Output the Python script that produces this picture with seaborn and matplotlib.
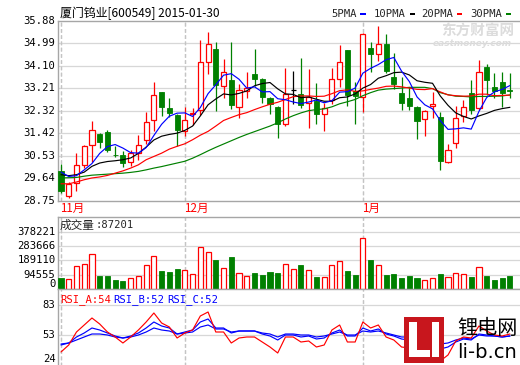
import numpy as np
import pandas as pd
import matplotlib
matplotlib.use("Agg")
import matplotlib.pyplot as plt
import matplotlib.transforms as mtrans
from matplotlib.patches import Rectangle
import seaborn as sns

sns.set_style("white")
plt.rcParams['font.family'] = ['Noto Sans CJK SC', 'DejaVu Sans']

# ---------------- data ----------------
title = "厦门钨业[600549] 2015-01-30"
open_ = [29.92, 28.93, 29.45, 30.18, 30.97, 31.39, 31.46, 30.58, 30.55, 30.28, 30.64, 31.17, 31.93, 33.04, 32.44,
         32.13, 31.50, 32.20, 32.35, 34.25, 34.74, 33.31, 33.52, 32.48, 33.10, 33.75, 33.56, 32.81, 32.48, 31.78,
         33.12, 32.97, 32.61, 32.70, 32.19, 32.74, 33.57, 34.70, 33.10, 32.84, 34.78, 34.55, 34.97, 33.66, 33.00,
         32.81, 32.48, 31.97, 32.52, 32.06, 30.28, 31.04, 32.09, 33.00, 32.41, 34.06, 33.27, 33.46, 33.12]
high = [30.21, 29.51, 30.64, 30.97, 31.91, 31.42, 31.55, 30.93, 30.73, 30.76, 31.36, 32.28, 33.44, 33.06, 32.81,
        32.17, 32.48, 32.41, 35.10, 35.41, 35.04, 34.34, 35.04, 33.38, 33.83, 34.74, 33.62, 32.85, 32.52, 34.02,
        33.90, 34.38, 33.95, 33.40, 32.61, 33.99, 34.91, 34.72, 33.44, 35.37, 35.04, 35.67, 35.36, 34.58, 33.66,
        33.27, 32.52, 32.34, 33.07, 32.26, 31.00, 32.52, 32.74, 33.53, 34.31, 34.15, 33.79, 33.86, 33.79]
low = [29.07, 28.87, 29.16, 30.05, 30.31, 30.85, 30.68, 30.48, 30.08, 30.15, 30.35, 31.00, 31.50, 32.09, 32.05,
       30.93, 31.30, 31.76, 32.15, 33.75, 32.31, 32.81, 32.39, 32.02, 32.81, 33.30, 32.61, 32.18, 31.23, 31.73,
       32.60, 32.41, 31.63, 31.78, 31.52, 32.57, 33.27, 32.52, 31.78, 32.26, 33.86, 34.28, 33.79, 33.16, 32.35,
       32.35, 31.20, 31.30, 32.02, 29.98, 30.26, 30.84, 31.89, 32.19, 32.35, 32.94, 32.81, 32.48, 32.81]
close = [29.13, 29.41, 30.17, 30.92, 31.54, 31.10, 30.77, 30.55, 30.25, 30.63, 30.98, 31.89, 32.94, 32.48, 32.22,
         31.56, 31.93, 32.24, 34.25, 34.97, 33.33, 33.83, 32.54, 33.15, 33.20, 33.57, 32.84, 32.58, 31.78, 32.97,
         33.12, 32.55, 32.87, 32.18, 32.41, 33.56, 34.25, 32.94, 32.90, 35.33, 34.55, 34.97, 33.88, 33.37, 32.61,
         32.52, 31.91, 32.32, 32.57, 30.34, 30.77, 32.02, 32.48, 32.35, 33.83, 33.53, 33.10, 33.00, 33.08]
volume = [74588, 66007, 151816, 165018, 231025, 85809, 85809, 59406, 52806, 70627, 83829, 158417, 215843, 118813,
          112212, 132014, 123433, 97030, 275249, 242246, 191420, 136634, 211222, 103631, 83829, 105611, 92410,
          112212, 105611, 163037, 130034, 158417, 123433, 79208, 77228, 156437, 182839, 118813, 92410, 334655,
          191420, 156437, 92410, 99011, 72608, 85809, 72608, 57426, 70627, 99011, 77228, 103631, 97030, 79208,
          143235, 85809, 59406, 72608, 87201]
vol_up = [0, 1, 1, 1, 1, 0, 0, 0, 0, 1, 1, 1, 1, 0, 0, 0, 1, 1, 1, 1, 0, 1, 0, 1, 1, 0, 0, 0, 0, 1,
          1, 0, 1, 0, 1, 1, 1, 0, 0, 1, 0, 1, 0, 0, 0, 0, 0, 1, 1, 0, 1, 1, 1, 0, 1, 0, 0, 0, 0]
ma5 = [29.89, 29.72, 29.75, 29.98, 30.23, 30.63, 30.90, 30.98, 30.84, 30.66, 30.64, 30.86, 31.34, 31.78, 32.10,
       32.22, 32.23, 32.09, 32.44, 32.99, 33.34, 33.72, 33.78, 33.56, 33.21, 33.26, 33.06, 33.07, 32.79, 32.75,
       32.66, 32.60, 32.66, 32.74, 32.63, 32.71, 33.05, 33.07, 33.21, 33.80, 33.99, 34.14, 34.33, 34.42, 33.88,
       33.47, 32.86, 32.55, 32.39, 31.93, 31.58, 31.60, 31.64, 31.59, 32.29, 32.84, 33.06, 33.16, 33.31]
ma10 = [29.79, 29.75, 29.79, 29.89, 30.12, 30.25, 30.31, 30.34, 30.38, 30.45, 30.63, 30.88, 31.16, 31.31, 31.38,
        31.43, 31.54, 31.71, 32.11, 32.55, 32.78, 32.98, 32.94, 33.00, 33.10, 33.30, 33.39, 33.43, 33.18, 32.98,
        32.96, 32.83, 32.86, 32.77, 32.69, 32.69, 32.83, 32.86, 32.98, 33.21, 33.35, 33.60, 33.70, 33.82, 33.84,
        33.73, 33.50, 33.44, 33.40, 32.90, 32.53, 32.23, 32.09, 31.99, 32.11, 32.21, 32.33, 32.40, 32.45]
ma20 = [29.43, 29.43, 29.50, 29.59, 29.66, 29.70, 29.76, 29.85, 29.94, 30.05, 30.18, 30.38, 30.51, 30.64, 30.80,
        30.91, 31.01, 31.17, 31.35, 31.50, 31.71, 31.93, 32.05, 32.16, 32.24, 32.36, 32.47, 32.57, 32.65, 32.76,
        32.87, 32.90, 32.90, 32.88, 32.89, 32.99, 33.11, 33.14, 33.08, 33.10, 33.16, 33.21, 33.28, 33.29, 33.26,
        33.21, 33.16, 33.15, 33.19, 33.06, 32.94, 32.91, 32.89, 32.90, 32.97, 32.97, 32.91, 32.92, 32.93]
ma30 = [29.66, 29.67, 29.68, 29.73, 29.77, 29.79, 29.81, 29.83, 29.85, 29.88, 29.92, 29.98, 30.05, 30.11, 30.18,
        30.25, 30.32, 30.44, 30.58, 30.73, 30.87, 31.00, 31.13, 31.26, 31.38, 31.49, 31.60, 31.71, 31.84, 31.99,
        32.12, 32.23, 32.32, 32.36, 32.39, 32.47, 32.59, 32.67, 32.76, 32.91, 33.03, 33.13, 33.17, 33.19, 33.21,
        33.24, 33.24, 33.24, 33.19, 33.03, 32.95, 32.89, 32.88, 32.86, 32.88, 32.88, 32.89, 32.90, 32.94]
rsi_a = [36, 43, 56, 63, 70, 64, 56, 51, 45, 51, 58, 66, 75, 65, 61, 50, 55, 58, 72, 76, 56, 56, 45, 50, 51,
         51, 46, 41, 35, 51, 51, 46, 47, 41, 43, 58, 63, 46, 46, 66, 60, 63, 51, 48, 41, 40, 32, 37, 39, 27,
         33, 47, 51, 50, 62, 57, 53, 52, 54]
rsi_b = [43, 45, 51, 55, 60, 58, 55, 52, 50, 52, 55, 60, 66, 62, 60, 54, 56, 58, 66, 69, 60, 60, 55, 57, 57,
         57, 54, 52, 48, 53, 53, 51, 52, 49, 50, 55, 58, 52, 52, 60, 57, 59, 54, 52, 49, 48, 44, 46, 47, 39,
         41, 46, 49, 48, 54, 53, 52, 51, 52]
rsi_c = [44, 45, 48, 51, 54, 54, 53, 51, 50, 51, 53, 56, 60, 58, 57, 54, 55, 56, 61, 63, 59, 59, 56, 57, 57,
         57, 55, 54, 51, 54, 54, 53, 53, 51, 52, 54, 56, 53, 53, 57, 56, 57, 55, 53, 51, 51, 48, 49, 49, 44,
         45, 48, 50, 49, 53, 52, 52, 51, 52]
month_labels = ["11月", "12月", "1月"]
month_index = [0, 16, 39]
price_ticks = [28.75, 29.64, 30.53, 31.42, 32.32, 33.21, 34.10, 34.99, 35.88]
volume_ticks = [0, 94555, 189110, 283666, 378221]
rsi_ticks = [24, 53, 83]
ma_names = ["5PMA", "10PMA", "20PMA", "30PMA"]

for arr in (high, low, close, volume, vol_up, ma5, ma10, ma20, ma30, rsi_a, rsi_b, rsi_c):
    if len(arr) != len(open_):
        raise ValueError("length mismatch %d" % len(arr))

# ---------------- style ----------------
RED = "#ff0000"
GREEN = "#008000"
BLUE = "#0000ff"
GRID = "#d7d7d7"
BORDER = "#a6a6a6"
DASH = "#c4c4c4"
MONO = "DejaVu Sans Mono"

W, H = 520, 365
fig = plt.figure(figsize=(W / 100, H / 100), dpi=100)
fig.patch.set_facecolor("white")


def rect(x0, y0, x1, y1):
    return [x0 / W, 1 - y1 / H, (x1 - x0) / W, (y1 - y0) / H]


step = 7.74
x_first = 61.0
xlim = ((58 - x_first) / step, (521 - x_first) / step)
idx = np.arange(len(close))
BW = 0.66


def style_axes(ax, ylim):
    ax.set_xlim(*xlim)
    ax.set_ylim(*ylim)
    ax.set_xticks([])
    ax.set_yticks([])
    ax.set_xlabel("")
    ax.set_ylabel("")
    for s in ax.spines.values():
        s.set_color(BORDER)
        s.set_linewidth(1.0)
    ax.spines["right"].set_visible(False)
    for m in month_index:
        ax.axvline(m, color=DASH, lw=0.9, ls=(0, (3, 2)), zorder=0)


def ylabels(ax, ticks, labels, vas=None):
    tr = mtrans.blended_transform_factory(fig.transFigure, ax.transData)
    for k, (t, lab) in enumerate(zip(ticks, labels)):
        va = "center" if vas is None else vas[k]
        ax.text(55.5 / W, t, lab, transform=tr, ha="right", va=va, fontsize=7.6,
                family=MONO, color="black", clip_on=False)


# ---------------- main price panel ----------------
ax = fig.add_axes(rect(58, 20.5, 521, 201))
style_axes(ax, (price_ticks[0], price_ticks[-1]))
for p in price_ticks[1:-1]:
    ax.axhline(p, color=GRID, lw=0.9, zorder=0)
ylabels(ax, price_ticks, ["%.2f" % p for p in price_ticks])

for i in idx:
    o, h, l, c = open_[i], high[i], low[i], close[i]
    if c > o:
        ax.vlines(i, c, h, color=RED, lw=0.9, zorder=3)
        ax.vlines(i, l, o, color=RED, lw=0.9, zorder=3)
        ax.add_patch(Rectangle((i - BW / 2, o), BW, c - o, facecolor="white",
                               edgecolor=RED, lw=0.9, zorder=3))
    elif c < o:
        ax.vlines(i, l, h, color=GREEN, lw=0.9, zorder=3)
        ax.add_patch(Rectangle((i - BW / 2, c), BW, o - c, facecolor=GREEN,
                               edgecolor=GREEN, lw=0.6, zorder=3))
    else:
        ax.vlines(i, l, h, color="black", lw=0.9, zorder=3)
        ax.hlines(o, i - BW / 2, i + BW / 2, color="black", lw=0.9, zorder=3)

for series, col in ((ma30, GREEN), (ma20, RED), (ma10, "black"), (ma5, BLUE)):
    sns.lineplot(x=idx, y=series, ax=ax, color=col, linewidth=0.85, legend=False,
                 estimator=None, zorder=4)
style_axes(ax, (price_ticks[0], price_ticks[-1]))

# title and legend
fig.text(60 / W, 1 - 13.5 / H, title, fontsize=8.6, ha="left", va="center", color="black")
leg_x = [331, 374, 421, 470]
leg_col = [BLUE, "black", RED, GREEN]
for name, x0, col in zip(ma_names, leg_x, leg_col):
    fig.text(x0 / W, 1 - 14 / H, name, fontsize=7.6, family=MONO, ha="left", va="center")
    sw = x0 + 6.5 * len(name) + 3
    fig.add_artist(Rectangle((sw / W, 1 - 15.2 / H), 5.5 / W, 2.4 / H, transform=fig.transFigure,
                             facecolor=col, edgecolor="none"))

# eastmoney watermark
fig.text(478 / W, 1 - 31 / H, "东方财富网", fontsize=10.5, fontweight="bold", color="#dcdcdc",
         ha="center", va="center")
fig.text(472 / W, 1 - 43 / H, "eastmoney.com", fontsize=6.5, fontweight="bold", style="italic",
         color="#dcdcdc", ha="center", va="center", family="DejaVu Sans")

# month labels
for lab, m in zip(month_labels, month_index):
    xp = x_first + m * step - 1
    fig.text(xp / W, 1 - 208.5 / H, lab, fontsize=8.4, color=RED, ha="left", va="center")

# ---------------- volume panel ----------------
axv = fig.add_axes(rect(58, 217, 521, 289))
vtop = volume_ticks[-1] * 72.0 / 57.3
style_axes(axv, (0, vtop))
for t in volume_ticks[1:]:
    axv.axhline(t, color=GRID, lw=0.9, zorder=0)
for i in idx:
    if vol_up[i]:
        axv.bar(i, volume[i], width=BW, facecolor="white", edgecolor=RED, lw=0.9, zorder=3)
    else:
        axv.bar(i, volume[i], width=BW, facecolor=GREEN, edgecolor=GREEN, lw=0.6, zorder=3)
style_axes(axv, (0, vtop))
ylabels(axv, volume_ticks, [str(v) for v in volume_ticks], vas=["bottom", "center", "center", "center", "center"])
fig.text(60 / W, 1 - 225 / H, "成交量", fontsize=8.4, ha="left", va="center")
fig.text(96 / W, 1 - 225 / H, ":%d" % volume[-1], fontsize=7.6, family=MONO, ha="left", va="center")

# ---------------- RSI panel ----------------
axr = fig.add_axes(rect(58, 289, 521, 366))
style_axes(axr, (22, 99))
axr.axhline(53, color=GRID, lw=0.9, zorder=0)
axr.axhline(83, color=GRID, lw=0.9, zorder=0)
for series, col in ((rsi_c, BLUE), (rsi_b, BLUE), (rsi_a, RED)):
    sns.lineplot(x=idx, y=series, ax=axr, color=col, linewidth=0.85, legend=False,
                 estimator=None, zorder=4)
style_axes(axr, (22, 99))
ylabels(axr, [24, 53, 83], ["24", "53", "83"], vas=["bottom", "center", "center"])
rsi_texts = [("RSI_A:%d" % rsi_a[-1], RED, 60), ("RSI_B:%d" % rsi_b[-1], BLUE, 113),
             ("RSI_C:%d" % rsi_c[-1], BLUE, 167)]
for txt, col, x0 in rsi_texts:
    fig.text(x0 / W, 1 - 300 / H, txt, fontsize=7.6, family=MONO, color=col, ha="left", va="center")

# li-b.cn watermark
fig.add_artist(Rectangle((404 / W, 1 - 363 / H), 40 / W, 46 / H, transform=fig.transFigure,
                         facecolor="#c8161d", edgecolor="none", zorder=10))
for (x0, y0, x1, y1) in ((409, 322, 417, 357), (409, 350, 430, 357), (432, 322, 439, 357)):
    fig.add_artist(Rectangle((x0 / W, 1 - y1 / H), (x1 - x0) / W, (y1 - y0) / H,
                             transform=fig.transFigure, facecolor="white", edgecolor="none", zorder=11))
fig.text(487 / W, 1 - 329 / H, "锂电网", fontsize=14.5, color="black", ha="center", va="center", zorder=12)
fig.text(487 / W, 1 - 353 / H, "li-b.cn", fontsize=14, color="black", ha="center", va="center",
         family="DejaVu Sans", zorder=12)

fig.savefig("out.png", dpi=100, facecolor="white")
